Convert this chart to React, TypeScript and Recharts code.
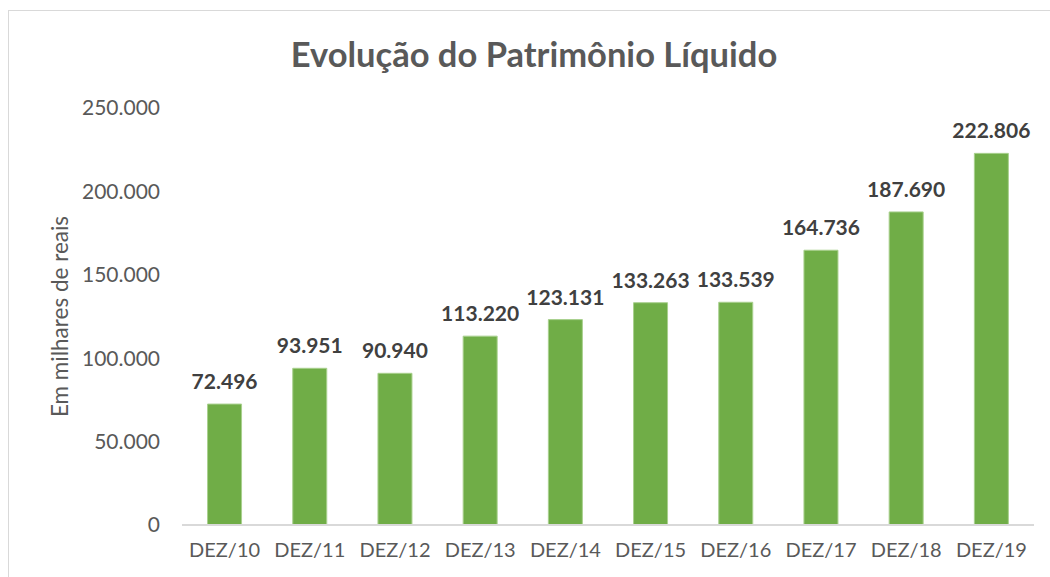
import { BarChart, Bar, XAxis, YAxis, LabelList, Label } from 'recharts'

const years = ['DEZ/10', 'DEZ/11', 'DEZ/12', 'DEZ/13', 'DEZ/14', 'DEZ/15', 'DEZ/16', 'DEZ/17', 'DEZ/18', 'DEZ/19']
const patrimonio = [72496, 93951, 90940, 113220, 123131, 133263, 133539, 164736, 187690, 222806]
const yTicks = [0, 50000, 100000, 150000, 200000, 250000]

const data = years.map((y, i) => ({ ano: y, valor: patrimonio[i] }))

const fmt = (v: number) => String(v).replace(/\B(?=(\d{3})+(?!\d))/g, '.')

const FONT = 'Lato, Carlito, Calibri, sans-serif'

export default function App() {
  return (
    <div style={{ position: 'absolute', left: 8, top: 10, width: 1050, height: 580, borderLeft: '1px solid #d9d9d9', borderTop: '1px solid #d9d9d9', fontFamily: FONT, background: '#fff' }}>
      <div style={{ position: 'absolute', left: 0, width: 1050, top: 22, textAlign: 'center', fontSize: 34.5, fontWeight: 700, color: '#595959' }}>
        Evolução do Patrimônio Líquido
      </div>
      <BarChart width={1042} height={567} data={data} margin={{ top: 98, right: 16, bottom: 0, left: 0 }} barCategoryGap="30%" style={{ position: 'absolute', left: -1, top: -1 }}>
        <XAxis dataKey="ano" height={52} tickLine={false} axisLine={{ stroke: '#d9d9d9', strokeWidth: 2 }} tickSize={0} tickMargin={18} tick={{ fill: '#595959', fontSize: 20, fontFamily: FONT }} />
        <YAxis width={174} domain={[0, 250000]} ticks={yTicks} tickFormatter={fmt} axisLine={false} tickLine={false} tickSize={0} tickMargin={22} tick={{ fill: '#595959', fontSize: 21, fontFamily: FONT }}>
          <Label value="Em milhares de reais" angle={-90} position="insideLeft" offset={52} style={{ fill: '#595959', fontSize: 22.5, fontFamily: FONT, textAnchor: 'middle' }} />
        </YAxis>
        <Bar dataKey="valor" fill="#70AD47" stroke="#a9d08e" strokeWidth={1} isAnimationActive={false}>
          <LabelList dataKey="valor" position="top" offset={15} formatter={(v: number) => fmt(v)} style={{ fill: '#404040', fontSize: 21, fontWeight: 700, fontFamily: FONT }} />
        </Bar>
      </BarChart>
    </div>
  )
}
